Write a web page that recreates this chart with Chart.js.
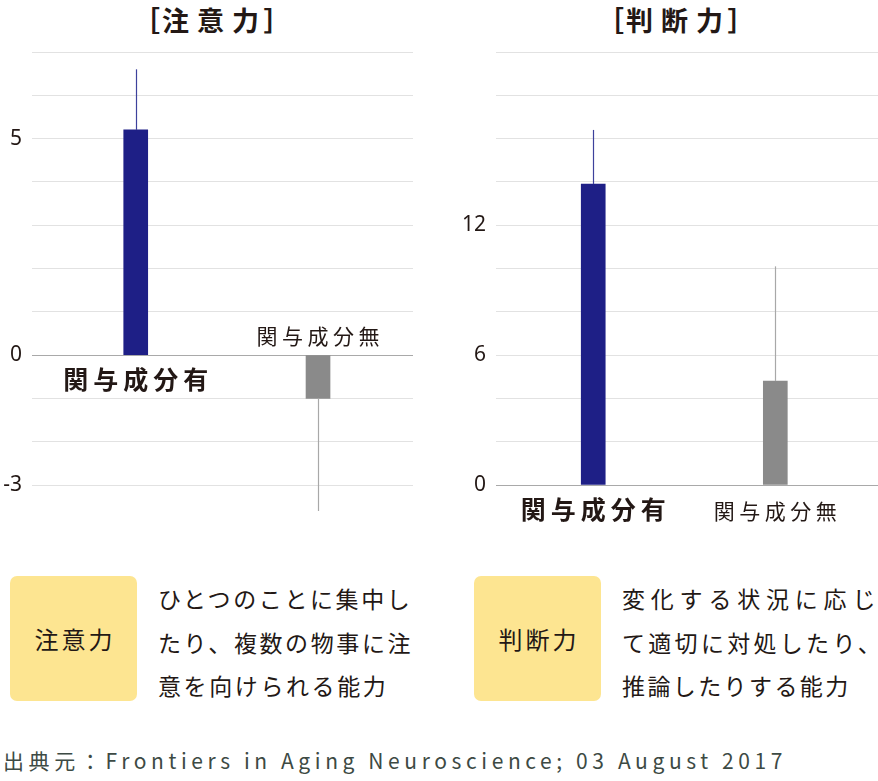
<!DOCTYPE html>
<html lang="ja">
<head>
<meta charset="utf-8">
<script src="https://cdn.jsdelivr.net/npm/chart.js@4/dist/chart.umd.min.js"></script>
<style>
  html, body { margin:0; padding:0; background:#fff; }
  body { width:878px; height:781px; position:relative; overflow:hidden; font-family:"Noto Sans CJK JP","Noto Sans",sans-serif; color:#231815; }
  .abs { position:absolute; }
  .title { top:3px; height:34px; line-height:34px; font-size:27px; font-weight:700; letter-spacing:8px; white-space:nowrap; }
  .title .b1 { letter-spacing:2px; }
  .title .l { letter-spacing:4.5px; }
  .box { background:#fde591; border-radius:7px; width:127px; height:125px; top:576px; display:flex; align-items:center; justify-content:center; font-size:24px; letter-spacing:3px; }
  .box span { padding-left:3px; }
  .desc { top:577px; font-size:23px; line-height:43.5px; white-space:nowrap; }
  .src { left:3px; top:745px; font-size:21px; line-height:30px; letter-spacing:4.6px; color:#3d4a44; white-space:nowrap; }
</style>
</head>
<body>
<div class="abs title" style="left:133px;"><span class="b1">［</span>注意<span class="l">力</span>］</div>
<div class="abs title" style="left:597px;"><span class="b1">［</span>判断<span class="l">力</span>］</div>

<canvas id="c1" class="abs" style="left:0;top:0;" width="440" height="530"></canvas>
<canvas id="c2" class="abs" style="left:440px;top:0;" width="438" height="530"></canvas>

<div class="abs box" style="left:10px;"><span>注意力</span></div>
<div class="abs desc" style="left:158px;">
  <div style="letter-spacing:2.6px">ひとつのことに集中し</div>
  <div style="letter-spacing:2.6px">たり、複数の物事に注</div>
  <div style="letter-spacing:2.6px">意を向けられる能力</div>
</div>
<div class="abs box" style="left:474px;"><span>判断力</span></div>
<div class="abs desc" style="left:622px;">
  <div style="letter-spacing:5.8px">変化する状況に応じ</div>
  <div style="letter-spacing:3.3px">て適切に対処したり、</div>
  <div style="letter-spacing:2.4px">推論したりする能力</div>
</div>
<div class="abs src">出典元：Frontiers in Aging Neuroscience; 03 August 2017</div>

<script>
// ---- data ----
const categories = ['関与成分有', '関与成分無'];
const attentionValues = [5.2, -1.0];
const attentionErrors = [1.4, 2.6];
const attentionTicks = [5, 0, -3];
const judgmentValues = [13.9, 4.8];
const judgmentErrors = [2.5, 5.3];
const judgmentTicks = [12, 6, 0];

// ---- styles ----
const barColors = ['#1e1f86', '#8a8a8a'];
const errColors = ['#3d419c', '#a8a8a8'];
const labelFonts = ['700 25px "Noto Sans CJK JP"', '400 21px "Noto Sans CJK JP"'];
const labelSpacing = [5, 4.5];
const labelBelow = [24, 26];
const labelAbove = [-19, -19];

const errorBarPlugin = {
  id: 'errorBars',
  afterDatasetsDraw(chart, args, opts) {
    const ctx = chart.ctx;
    const meta = chart.getDatasetMeta(0);
    const ys = chart.scales.y;
    meta.data.forEach((bar, i) => {
      const v = opts.values[i];
      const end = v + Math.sign(v) * opts.errors[i];
      ctx.save();
      ctx.strokeStyle = errColors[i];
      ctx.lineWidth = 1.2;
      ctx.beginPath();
      ctx.moveTo(Math.round(bar.x) + 0.5, bar.y);
      ctx.lineTo(Math.round(bar.x) + 0.5, ys.getPixelForValue(end));
      ctx.stroke();
      ctx.restore();
    });
  }
};

const catLabelPlugin = {
  id: 'catLabels',
  afterDraw(chart, args, opts) {
    const ctx = chart.ctx;
    const meta = chart.getDatasetMeta(0);
    const zero = chart.scales.y.getPixelForValue(0);
    meta.data.forEach((bar, i) => {
      const v = opts.values[i];
      ctx.save();
      ctx.font = labelFonts[i];
      ctx.fillStyle = '#231815';
      ctx.letterSpacing = labelSpacing[i] + 'px';
      ctx.textAlign = 'center';
      ctx.textBaseline = 'middle';
      const y = v >= 0 ? zero + labelBelow[i] : zero + labelAbove[i];
      ctx.fillText(categories[i], bar.x + labelSpacing[i] / 2, y);
      ctx.restore();
    });
  }
};

function makeChart(id, values, errors, tickList, cfg) {
  return new Chart(document.getElementById(id), {
    type: 'bar',
    data: {
      datasets: [{
        data: values.map((v, i) => ({ x: i, y: v })),
        backgroundColor: barColors,
        borderWidth: 0,
        barThickness: 24
      }]
    },
    options: {
      responsive: false,
      animation: false,
      devicePixelRatio: 1,
      layout: { padding: { left: 0, right: cfg.padRight, top: 52, bottom: 45 } },
      plugins: {
        legend: { display: false },
        tooltip: { enabled: false },
        errorBars: { values, errors },
        catLabels: { values }
      },
      scales: {
        x: { type: 'linear', offset: false, min: cfg.xMin, max: cfg.xMax, display: false },
        y: {
          min: cfg.min, max: cfg.max,
          afterFit: s => { s.width = cfg.yWidth; },
          border: { display: false },
          grid: {
            drawTicks: false,
            color: c => c.tick && c.tick.value === 0 ? '#a9a9a9' : '#e2e2e2',
            lineWidth: 1
          },
          ticks: {
            stepSize: cfg.step,
            autoSkip: false,
            padding: 10,
            color: '#231815',
            font: { family: '"Noto Sans", sans-serif', size: 21 },
            callback: v => tickList.includes(v) ? String(v) : ''
          }
        }
      }
    },
    plugins: [errorBarPlugin, catLabelPlugin]
  });
}

makeChart('c1', attentionValues, attentionErrors, attentionTicks,
  { min: -3, max: 7, step: 1, yWidth: 32, padRight: 27, xMin: -0.569, xMax: 1.521 });
makeChart('c2', judgmentValues, judgmentErrors, judgmentTicks,
  { min: 0, max: 20, step: 2, yWidth: 56, padRight: 0, xMin: -0.534, xMax: 1.564 });
</script>
</body>
</html>
